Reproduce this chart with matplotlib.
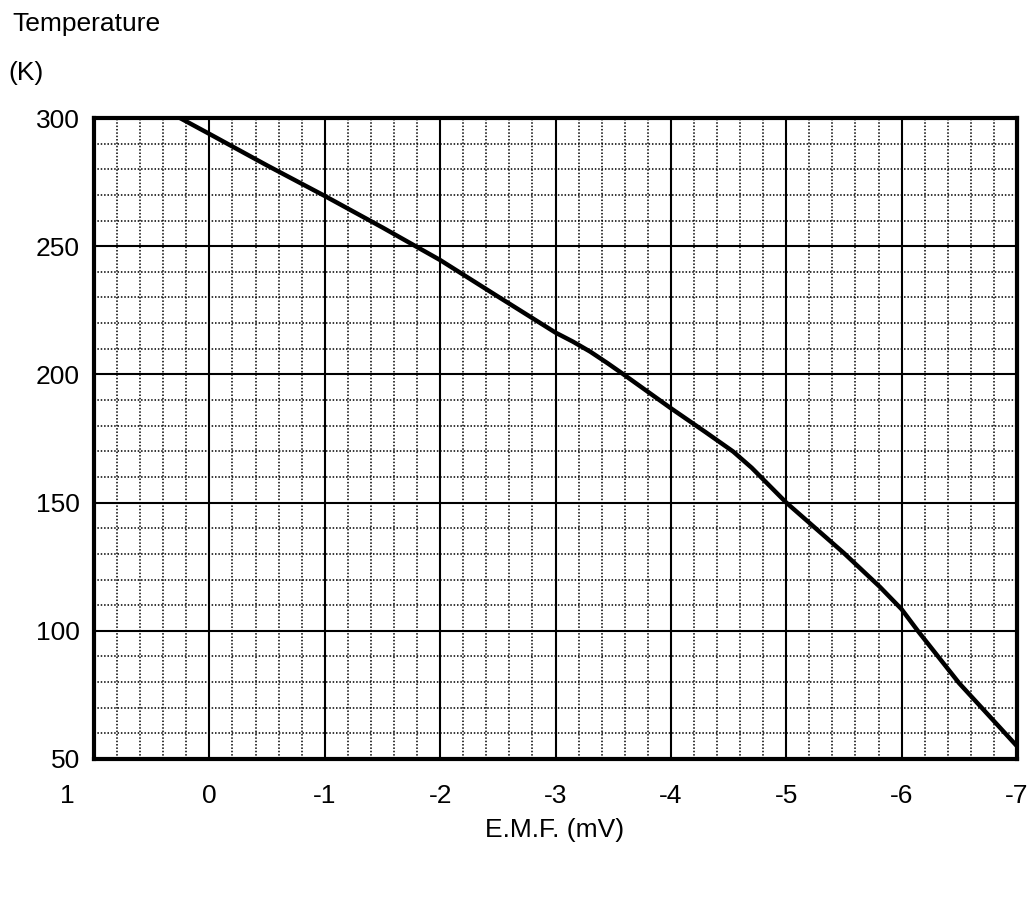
import numpy as np
import matplotlib.pyplot as plt
from matplotlib.transforms import ScaledTranslation

plt.rcParams['font.family'] = ['Liberation Sans', 'DejaVu Sans']

# Calibration curve
emf = [0.255, 0, -0.5, -1, -1.5, -2, -2.5, -3, -3.15, -3.3, -3.45, -3.59, -4, -4.3, -4.54, -4.7, -5, -5.5, -5.81, -6, -6.14, -6.5, -7]
temp = [300, 293.8, 281.5, 269.6, 257.3, 244.6, 230.4, 216.3, 212.8, 208.9, 204.4, 200, 186.8, 177.5, 169.9, 163.6, 150, 130.3, 117.2, 108.4, 100, 79.5, 55]

x_ticks = [1, 0, -1, -2, -3, -4, -5, -6, -7]
x_labels = ['1', '0', '-1', '-2', '-3', '-4', '-5', '-6', '-7']
y_ticks = [50, 100, 150, 200, 250, 300]

fig = plt.figure(figsize=(10.36, 9.01), dpi=100)
ax = fig.add_axes([94 / 1036, 1 - 759 / 901, (1017 - 94) / 1036, (759 - 118) / 901])

ax.set_xlim(1, -7)
ax.set_ylim(50, 300)
ax.set_xticks(x_ticks)
ax.set_xticklabels(x_labels)
ax.set_yticks(y_ticks)
ax.set_xticks(np.arange(1, -7.01, -0.2), minor=True)
ax.set_yticks(np.arange(50, 300.1, 10), minor=True)

ax.grid(which='major', color='black', linewidth=1.5, linestyle='-')
ax.grid(which='minor', color='black', linewidth=1.1, linestyle=(0, (1, 1.2)))
ax.set_axisbelow(True)

ax.tick_params(which='both', length=0)
ax.tick_params(axis='x', labelsize=19, pad=18)
ax.tick_params(axis='y', labelsize=19, pad=10)

for s in ax.spines.values():
    s.set_linewidth(3)
    s.set_color('black')

ax.plot(emf, temp, color='black', linewidth=3.2, solid_capstyle='butt',
        solid_joinstyle='round', zorder=5)

# the "1" label sits left of the frame edge
lab = ax.get_xticklabels()[0]
lab.set_transform(lab.get_transform() + ScaledTranslation(-27 / 100, 0, fig.dpi_scale_trans))

fig.text(12 / 1036, 1 - 24 / 901, 'Temperature', fontsize=19, ha='left', va='center')
fig.text(8 / 1036, 1 - 73 / 901, '(K)', fontsize=19, ha='left', va='center')
fig.text(555 / 1036, 1 - 830 / 901, 'E.M.F. (mV)', fontsize=19, ha='center', va='center')

fig.savefig('out.png', dpi=100)
